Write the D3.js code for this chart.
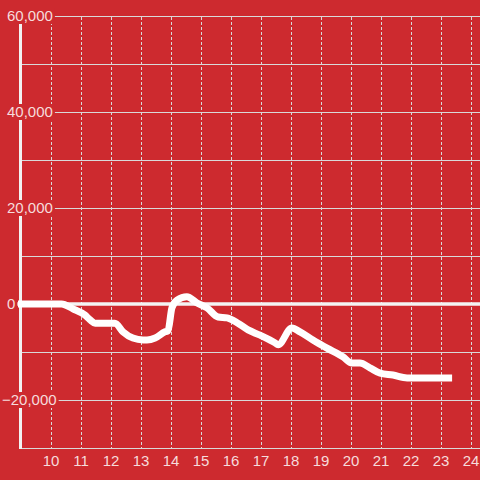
<!DOCTYPE html>
<html><head><meta charset="utf-8">
<script src="https://cdn.jsdelivr.net/npm/d3@7"></script>
<style>html,body{margin:0;padding:0;background:#cd2a2f;}svg{display:block;}</style>
</head><body>
<svg id="c" width="480" height="480"></svg>
<script>
const hours = [8.9,10.35,10.73,11.13,11.3,11.47,12.13,12.4,12.73,13.07,13.2,13.47,13.8,13.9,14.03,14.2,14.53,14.87,15.2,15.57,15.87,16.23,16.57,16.97,17.47,17.57,18.03,18.3,18.73,19.2,19.73,20.03,20.3,20.63,20.97,21.4,21.87,23.37];
const values = [0,0,-1000,-2300,-3300,-4000,-4000,-5800,-7100,-7500,-7500,-7100,-5800,-5600,-800,800,1500,200,-800,-2700,-2900,-4000,-5400,-6500,-8100,-8500,-5000,-5800,-7500,-9200,-11000,-12300,-12300,-13300,-14400,-14800,-15400,-15400];
const xTicks = [10,11,12,13,14,15,16,17,18,19,20,21,22,23,24];
const yGrid = [-30000,-20000,-10000,0,10000,20000,30000,40000,50000,60000];
const yLabels = [-20000,0,20000,40000,60000];

const bg = "#cd2a2f", txt = "#f6dcdc", grid = "#d9d9d9";
const svg = d3.select("#c");
svg.append("rect").attr("width",480).attr("height",480).attr("fill",bg);
const x = d3.scaleLinear().domain([9,24.3]).range([21,480]);
const y = d3.scaleLinear().domain([-30000,60000]).range([448,16]);
const fmt = d3.format(",");

// horizontal grid
svg.append("g").selectAll("line").data(yGrid.filter(d=>d!==0)).join("line")
  .attr("x1",20).attr("x2",480).attr("y1",d=>Math.round(y(d))+0.5).attr("y2",d=>Math.round(y(d))+0.5)
  .attr("stroke",grid).attr("stroke-width",1);
// vertical dashed
svg.append("g").selectAll("line").data(xTicks).join("line")
  .attr("x1",d=>Math.round(x(d))+0.5).attr("x2",d=>Math.round(x(d))+0.5)
  .attr("y1",y(60000)+1).attr("y2",y(-30000))
  .attr("stroke",grid).attr("stroke-width",1).attr("stroke-dasharray","3,2");
// y axis line
svg.append("line").attr("x1",20.5).attr("x2",20.5).attr("y1",y(60000)).attr("y2",y(-30000)+1)
  .attr("stroke","#f2f2f2").attr("stroke-width",3);
// zero line
svg.append("line").attr("x1",17).attr("x2",480).attr("y1",y(0)).attr("y2",y(0))
  .attr("stroke","#f4f4f4").attr("stroke-width",3.5);
// data line
const line = d3.line().x((d,i)=>x(hours[i])).y(d=>y(d)).curve(d3.curveMonotoneX);
svg.append("path").datum(values).attr("d",line).attr("fill","none")
  .attr("stroke","#ffffff").attr("stroke-width",7).attr("stroke-linejoin","round").attr("stroke-linecap","butt");
// y labels with background
const yl = svg.append("g").selectAll("g").data(yLabels).join("g");
yl.each(function(d){
  const g = d3.select(this);
  const t = g.append("text").attr("x",7).attr("y",y(d)).attr("dy","0.36em")
    .attr("font-family","Liberation Sans, Arial, sans-serif").attr("font-size",15).attr("fill",txt)
    .text(fmt(d));
  let w = t.node().getComputedTextLength();
  if (d<0) { t.attr("dx",-5); }
  const x0 = d<0 ? 2 : 7;
  g.insert("rect","text").attr("x",x0-1).attr("y",y(d)-8).attr("width",w+3).attr("height",16).attr("fill",bg);
});
// x labels
svg.append("g").selectAll("text").data(xTicks).join("text")
  .attr("x",d=>x(d)).attr("y",466).attr("text-anchor","middle")
  .attr("font-family","Liberation Sans, Arial, sans-serif").attr("font-size",15).attr("fill",txt)
  .text(d=>d);
</script>
</body></html>
